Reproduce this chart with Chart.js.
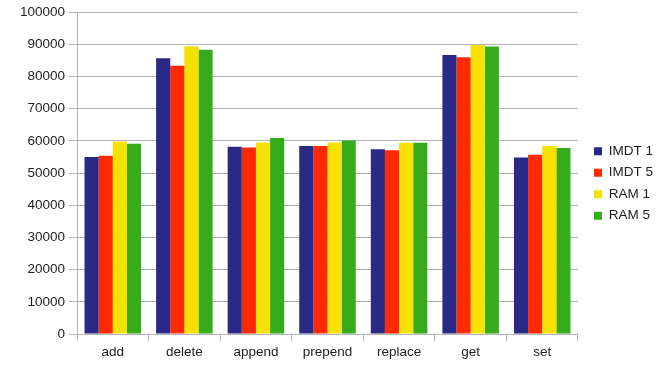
<!DOCTYPE html>
<html>
<head>
<meta charset="utf-8">
<script src="https://cdn.jsdelivr.net/npm/chart.js@4"></script>
<style>
  html, body { margin: 0; padding: 0; background: #fff; }
  #wrap { width: 665px; height: 374px; }
</style>
</head>
<body>
<div id="wrap"><canvas id="chart" width="665" height="374"></canvas></div>
<script>
const categories = ["add", "delete", "append", "prepend", "replace", "get", "set"];
const imdt1 = [55000, 85650, 58200, 58400, 57400, 86700, 54800];
const imdt5 = [55400, 83300, 57900, 58400, 57100, 86000, 55700];
const ram1 = [59800, 89400, 59500, 59500, 59400, 89800, 58400];
const ram5 = [59100, 88300, 60900, 60100, 59400, 89300, 57800];
const yMin = 0;
const yMax = 100000;
const yStep = 10000;

const gridGray = "#b3b3b3";
const textColor = "#1e1e1e";
const font = { family: "'Liberation Sans', Arial, sans-serif", size: 13.5 };

// nudge the legend so it sits where the original one does
const legendShift = {
  id: "legendShift",
  afterLayout(chart) {
    const lg = chart.legend;
    if (!lg) return;
    lg.left = chart.chartArea.right + 8;
    lg.right = lg.left + lg.width;
    lg.top -= 9;
    lg.bottom -= 9;
  },
};

const ctx = document.getElementById("chart");
new Chart(ctx, {
  type: "bar",
  data: {
    labels: categories,
    datasets: [
      { label: "IMDT 1", data: imdt1, backgroundColor: "#2a2a86" },
      { label: "IMDT 5", data: imdt5, backgroundColor: "#ff2a00" },
      { label: "RAM 1", data: ram1, backgroundColor: "#f6e100" },
      { label: "RAM 5", data: ram5, backgroundColor: "#36ac1c" },
    ],
  },
  options: {
    responsive: false,
    animation: false,
    layout: { padding: { top: 11, right: 10, bottom: 0, left: 0 } },
    datasets: { bar: { categoryPercentage: 0.79, barPercentage: 1 } },
    plugins: {
      legend: {
        position: "right",
        labels: { boxWidth: 8, boxHeight: 8, padding: 8, color: textColor, font },
      },
      tooltip: { enabled: false },
    },
    scales: {
      x: {
        grid: {
          offset: true,
          color: (c) => (c.index === 0 || c.index === categories.length ? gridGray : "rgba(0,0,0,0)"),
          tickColor: gridGray,
          tickLength: 7,
        },
        border: { color: gridGray },
        ticks: { color: textColor, font, padding: 3 },
        afterFit: (s) => { s.height = 40; },
      },
      y: {
        min: yMin,
        max: yMax,
        grid: { color: gridGray, tickColor: gridGray, tickLength: 8 },
        border: { color: gridGray },
        ticks: { stepSize: yStep, color: textColor, font, padding: 4, callback: (v) => String(v) },
        afterFit: (s) => { s.width = 77; },
      },
    },
  },
  plugins: [legendShift],
});
</script>
</body>
</html>
